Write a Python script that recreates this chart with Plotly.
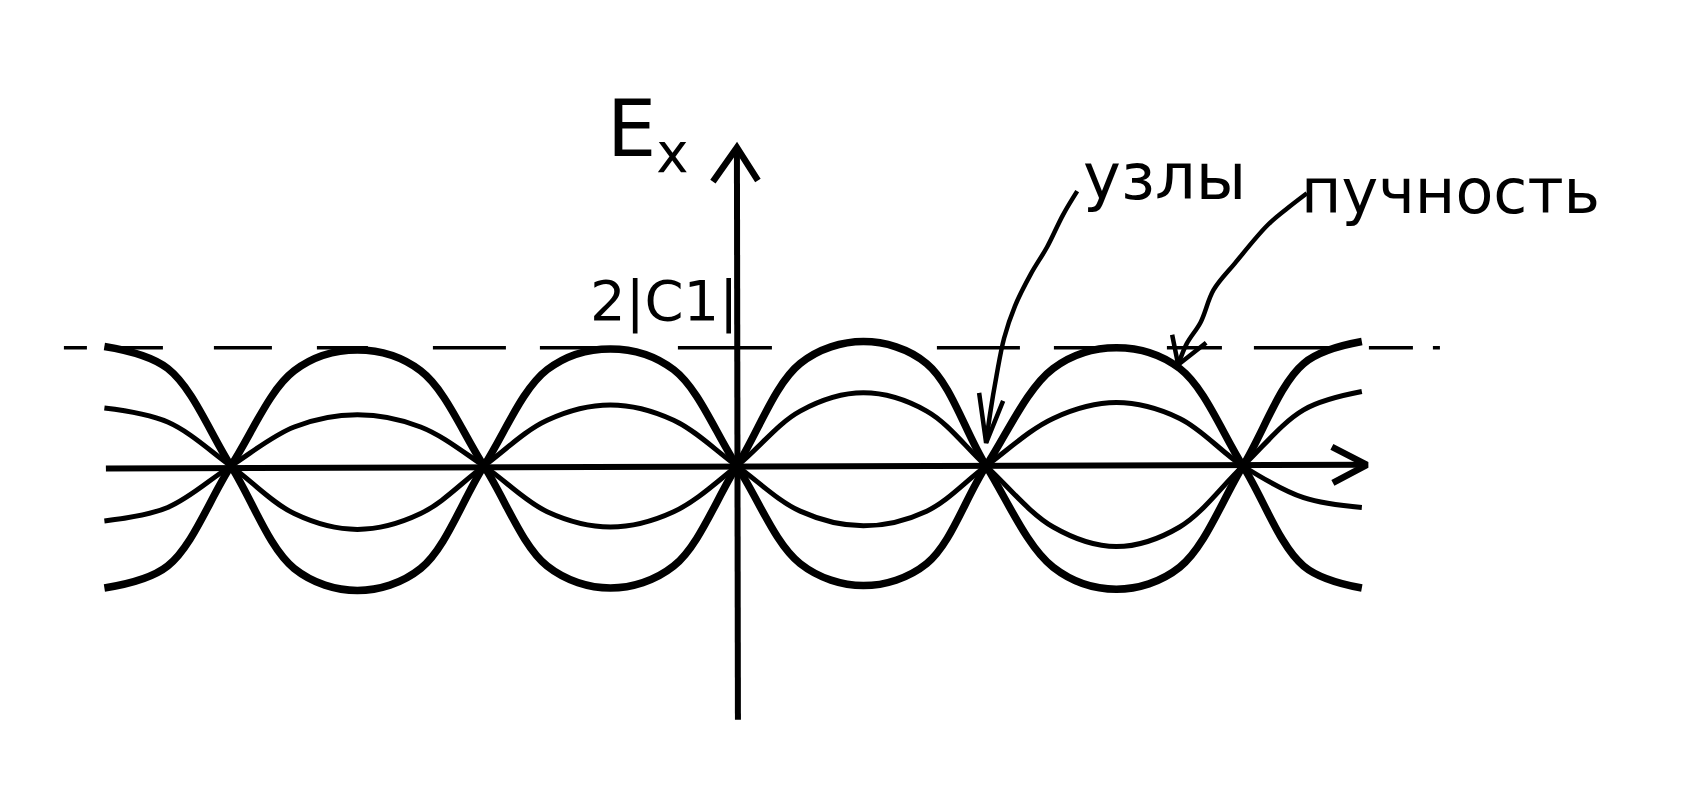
import plotly.graph_objects as go

# ---- data (x in units of half-wavelength, y in units of the amplitude 2|C1|) ----
x_pts = [-2.5, -2.25, -2.0, -1.75, -1.5, -1.25, -1.0, -0.75, -0.5, -0.25, 0.0,
         0.25, 0.5, 0.75, 0.985, 1.25, 1.5, 1.75, 2.0, 2.24, 2.47]

outer_a = [0.98, 0.80, 0.0, -0.84, -1.02, -0.84, 0.0, 0.79, 0.96, 0.79, 0.0,
           -0.80, -0.98, -0.80, 0.0, 0.80, 0.97, 0.80, 0.0, -0.82, -1.00]
outer_b = [-1.00, -0.82, 0.0, 0.78, 0.95, 0.78, 0.0, -0.82, -1.00, -0.82, 0.0,
           0.84, 1.02, 0.84, 0.0, -0.83, -1.01, -0.83, 0.0, 0.84, 1.02]
inner_a = [0.475, 0.36, 0.0, -0.39, -0.52, -0.39, 0.0, 0.375, 0.50, 0.375, 0.0,
           -0.37, -0.49, -0.37, 0.0, 0.39, 0.52, 0.39, 0.0, -0.26, -0.34]
inner_b = [-0.45, -0.34, 0.0, 0.32, 0.42, 0.32, 0.0, -0.375, -0.50, -0.375, 0.0,
           0.45, 0.60, 0.45, 0.0, -0.50, -0.66, -0.50, 0.0, 0.46, 0.61]

amp_level = 0.97          # 2|C1| dashed level
amp_extent = [-2.66, 2.78]
amp_dash = ("23px,18px,58px,51px,58px,45px,51px,65px,73px,34px,65px,73px,94px,165px,"
            "83px,34px,74px,39px,55px,32px,76px,39px,44px,20px,7px,400px")

# axes extents
x_axis_tail = (-2.494, -0.02)
x_axis_head = (2.49, 0.01)
y_axis_tail = (0.004, -2.08)
y_axis_head = (0.0, 2.61)

# pointer leader lines (hand-drawn arrows), ending at their tips
nodes_ptr_x = [1.345, 1.289, 1.226, 1.162, 1.099, 1.056, 1.026, 1.001, 0.985]
nodes_ptr_y = [2.253, 2.059, 1.795, 1.575, 1.311, 1.047, 0.739, 0.431, 0.19]
anti_ptr_x = [2.253, 2.176, 2.096, 1.969, 1.884, 1.833, 1.778, 1.744]
anti_ptr_y = [2.235, 2.112, 1.971, 1.663, 1.443, 1.179, 1.003, 0.83]

# arrow-head arm offsets in screen pixels (dx right, dy down) from each tip
x_axis_arms = [(-35, -18), (-34, 18)]
y_axis_arms = [(-24, 34), (21, 33)]
nodes_arms = [(-7, -50), (17, -42)]
anti_arms = [(-6, -30), (28, -22)]

labels = {
    "ex": ("E<sub>x</sub>", -0.35, 2.72),
    "amp": ("2|C1|", -0.29, 1.35),
    "nodes": ("узлы", 1.69, 2.37),
    "anti": ("пучность", 2.82, 2.25),
}

PX_X = 253.0   # pixels per x unit
PX_Y = 122.0   # pixels per y unit
BLACK = "#000000"
fig = go.Figure()


def chevron(tip, arms):
    (dx1, dy1), (dx2, dy2) = arms
    xs = [tip[0] + dx1 / PX_X, tip[0], tip[0] + dx2 / PX_X]
    ys = [tip[1] - dy1 / PX_Y, tip[1], tip[1] - dy2 / PX_Y]
    return xs, ys


def add_line(xs, ys, w, shape="linear"):
    fig.add_trace(go.Scatter(x=xs, y=ys, mode="lines",
                             line=dict(color=BLACK, width=w, shape=shape),
                             hoverinfo="skip"))


# dashed amplitude level
fig.add_trace(go.Scatter(x=amp_extent, y=[amp_level, amp_level], mode="lines",
                         line=dict(color=BLACK, width=3.5, dash=amp_dash),
                         hoverinfo="skip"))

# axes
add_line([x_axis_tail[0], x_axis_head[0]], [x_axis_tail[1], x_axis_head[1]], 6)
add_line([y_axis_tail[0], y_axis_head[0]], [y_axis_tail[1], y_axis_head[1]], 6)
add_line(*chevron(x_axis_head, x_axis_arms), 6.5)
add_line(*chevron(y_axis_head, y_axis_arms), 6.5)

# standing-wave snapshots
for ys, w in [(outer_a, 7.5), (outer_b, 7.5), (inner_a, 5), (inner_b, 5)]:
    fig.add_trace(go.Scatter(x=x_pts, y=ys, mode="lines",
                             line=dict(color=BLACK, width=w, shape="spline", smoothing=1.0),
                             hoverinfo="skip"))

# pointers
add_line(nodes_ptr_x, nodes_ptr_y, 4.5, "spline")
add_line(anti_ptr_x, anti_ptr_y, 4.5, "spline")
add_line(*chevron((nodes_ptr_x[-1], nodes_ptr_y[-1]), nodes_arms), 4.5)
add_line(*chevron((anti_ptr_x[-1], anti_ptr_y[-1]), anti_arms), 4.5)

annotations = []
font_fam = "DejaVu Sans"
sizes = {"ex": 78, "amp": 56, "nodes": 64, "anti": 62}
for key, (txt, xx, yy) in labels.items():
    annotations.append(dict(x=xx, y=yy, xref="x", yref="y", text=txt, showarrow=False,
                            font=dict(family=font_fam, size=sizes[key], color=BLACK),
                            xanchor="center", yanchor="middle"))

# page offset of the plot div (default body margin of 8px) is folded into the ranges
fig.update_layout(
    width=1684, height=804,
    margin=dict(l=0, r=0, t=0, b=0),
    paper_bgcolor="white", plot_bgcolor="white",
    showlegend=False,
    xaxis=dict(range=[-2.881, 3.775], visible=False, fixedrange=True),
    yaxis=dict(range=[-2.836, 3.754], visible=False, fixedrange=True),
    annotations=annotations,
)

fig.write_html("out.html")
